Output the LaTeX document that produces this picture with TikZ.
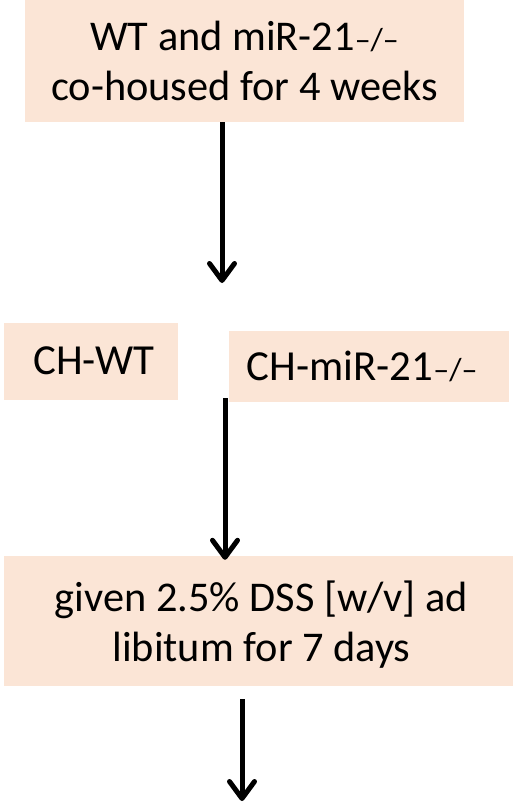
\documentclass[tikz,border=0pt]{standalone}
\usepackage{fontspec}
\setmainfont{Carlito}
\usetikzlibrary{arrows.meta}
\definecolor{boxfill}{HTML}{FBE5D6}
\newcommand{\ko}{{\fontsize{32}{32}\selectfont –/–}}
\tikzset{
  box/.style={fill=boxfill, inner sep=0pt, align=center,
    font=\fontsize{42.5}{50}\selectfont},
  flow/.style={line width=5bp, -{Straight Barb[length=17bp,width=25bp,round]}}
}
\begin{document}
\begin{tikzpicture}[x=1bp,y=-1bp]
\useasboundingbox (0,0) rectangle (513,807);
\node[box, minimum width=439bp, minimum height=122bp] (top) at (244.5,61)
  {WT and miR-21\ko\\co-housed for 4 weeks};
\node[box, minimum width=174bp, minimum height=77bp, font=\fontsize{43}{43}\selectfont] (chwt) at (91,361) {\hspace{6bp}CH-WT};
\node[box, minimum width=280bp, minimum height=71bp, anchor=west, font=\fontsize{43}{43}\selectfont] (chmir) at (229,366.5) {\hspace{-14bp}CH-miR-21\ko};
\node[box, minimum width=509bp, minimum height=130bp, text depth=0pt] (dss) at (258.5,621)
  {\hspace{6bp}given 2.5\% DSS [w/v] ad\\\hspace{6bp}libitum for 7 days};
\coordinate (a1) at (222,283);
\coordinate (a2) at (225,398);
\coordinate (a3) at (242,801);
\draw[flow] (top.south -| a1) -- (a1);
\draw[flow] (a2) -- ([yshift=-4bp]dss.north -| a2);
\draw[flow] ([yshift=-13bp]dss.south -| a3) -- (a3);
\end{tikzpicture}
\end{document}
